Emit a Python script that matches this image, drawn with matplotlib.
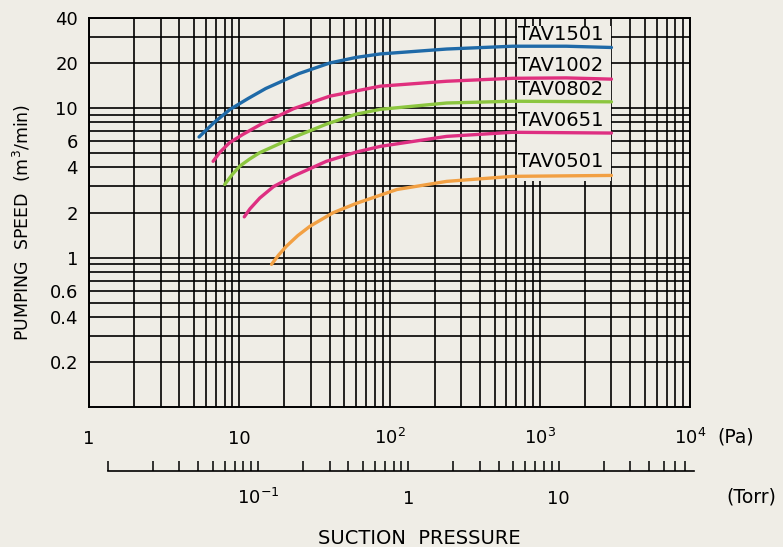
import matplotlib
matplotlib.use('Agg')
import numpy as np
from matplotlib import pyplot as plt
from matplotlib.patches import Rectangle
from matplotlib.ticker import FixedLocator, NullFormatter

PA_PER_TORR = 133.322

# pumping speed curves (x: Pa, y: m3/min)
tav1501_pa = [5.4, 6.8, 8.7, 11.5, 15, 25, 40, 60, 87, 240, 660, 1500, 3000]
tav1501_speed = [6.4, 8.0, 9.8, 11.6, 13.5, 17.0, 20.0, 21.8, 23.0, 24.8, 25.9, 25.9, 25.4]

tav1002_pa = [6.7, 7.45, 8.6, 10.6, 14, 23, 40, 87, 240, 660, 1500, 3000]
tav1002_speed = [4.4, 5.07, 5.85, 6.67, 7.8, 9.9, 12.0, 14.0, 15.1, 15.8, 15.9, 15.6]

tav0802_pa = [8.0, 9.0, 10.1, 11.7, 13.7, 22.9, 38, 60, 87, 240, 660, 3000]
tav0802_speed = [3.08, 3.6, 4.09, 4.55, 5.03, 6.35, 7.8, 9.1, 9.8, 10.8, 11.1, 11.0]

tav0651_pa = [10.8, 11.8, 13.7, 16.9, 22.9, 38, 60, 87, 240, 660, 3000]
tav0651_speed = [1.87, 2.12, 2.5, 2.98, 3.5, 4.4, 5.07, 5.54, 6.46, 6.88, 6.8]

tav0501_pa = [16.4, 18.3, 20.6, 24.5, 29.6, 42, 60, 112, 240, 660, 3000]
tav0501_speed = [0.9, 1.04, 1.19, 1.4, 1.62, 1.99, 2.3, 2.85, 3.23, 3.49, 3.54]

models = ['TAV1501', 'TAV1002', 'TAV0802', 'TAV0651', 'TAV0501']
label_y = [31.2, 19.3, 13.3, 8.27, 4.36]
colors = ['#1f6aa8', '#e0307e', '#8cc63f', '#de2f82', '#f2a043']

pa_ticks = [1, 10, 100, 1000, 10000]
pa_labels = ['1', '10', '$10^2$', '$10^3$', '$10^4$']
speed_ticks = [0.2, 0.4, 0.6, 1, 2, 4, 6, 10, 20, 40]
speed_minor = [0.3, 0.5, 0.7, 0.8, 0.9, 3, 5, 7, 8, 9, 30]
torr_ticks = [0.01, 0.1, 1, 10]
torr_labels = ['', '$10^{-1}$', '1', '10']

bg = '#efede6'
plt.rcParams['font.family'] = ['DejaVu Sans']
plt.rcParams['mathtext.default'] = 'regular'

fig = plt.figure(figsize=(7.83, 5.47), dpi=100, facecolor=bg)
ax = fig.add_axes([89 / 783, 1 - 407 / 547, 601 / 783, 389 / 547])
ax.set_facecolor(bg)
ax.set_xscale('log')
ax.set_yscale('log')
ax.set_xlim(1, 1e4)
ax.set_ylim(0.1, 40)

ax.set_xticks(pa_ticks, pa_labels)
ax.xaxis.set_minor_locator(FixedLocator(
    [k * 10 ** e for e in range(4) for k in range(2, 10)]))
ax.xaxis.set_minor_formatter(NullFormatter())
ax.set_yticks(speed_ticks, [f'{v:g}' for v in speed_ticks])
ax.yaxis.set_minor_locator(FixedLocator(speed_minor))
ax.yaxis.set_minor_formatter(NullFormatter())
ax.tick_params(which='both', length=0)
ax.tick_params(axis='x', labelsize=13, pad=27)
ax.tick_params(axis='y', labelsize=13, pad=8)
plt.setp(ax.get_xticklabels(), va='baseline')
ax.grid(which='both', color='black', linewidth=1.2, zorder=1)
ax.set_axisbelow(True)
for s in ax.spines.values():
    s.set_linewidth(1.4)

# blank area behind the model names
ax.add_patch(Rectangle((705, 3.25), 3000 - 705, 35.3 - 3.25,
                       facecolor=bg, edgecolor='none', zorder=2))

series = [(tav1501_pa, tav1501_speed), (tav1002_pa, tav1002_speed),
          (tav0802_pa, tav0802_speed), (tav0651_pa, tav0651_speed),
          (tav0501_pa, tav0501_speed)]
for (xs, ys), c in zip(series, colors):
    ax.plot(xs, ys, color=c, linewidth=2.4, solid_capstyle='round',
            solid_joinstyle='round', zorder=3)

for name, y in zip(models, label_y):
    ax.text(718, y, name, fontsize=14, va='center', ha='left', zorder=4)

# Torr scale under the Pa scale
ax2 = fig.add_axes([89 / 783, 1 - 471 / 547, 601 / 783, 0.03])
ax2.patch.set_visible(False)
ax2.set_xscale('log')
ax2.set_xlim(1 / PA_PER_TORR, 1e4 / PA_PER_TORR)
ax2.set_yticks([])
for k in ['top', 'left', 'right']:
    ax2.spines[k].set_visible(False)
ax2.spines['bottom'].set_bounds(0.01, 80)
ax2.spines['bottom'].set_linewidth(1.2)
ax2.set_xticks(torr_ticks, torr_labels)
ax2.xaxis.set_minor_locator(FixedLocator(
    [k * 10 ** e for e in range(-2, 2) for k in range(2, 10) if k * 10 ** e <= 80]))
ax2.xaxis.set_minor_formatter(NullFormatter())
ax2.tick_params(which='both', direction='in', length=7.5, width=1.1)
ax2.tick_params(axis='x', labelsize=13, pad=24)
plt.setp(ax2.get_xticklabels(), va='baseline')

fig.text(736 / 783, 1 - 437 / 547, '(Pa)', fontsize=13.5, ha='center', va='center')
fig.text(751 / 783, 1 - 497 / 547, '(Torr)', fontsize=13.5, ha='center', va='center')
fig.text(419 / 783, 1 - 538 / 547, 'SUCTION  PRESSURE', fontsize=14,
         ha='center', va='center')
fig.text(22 / 783, 1 - 222 / 547, 'PUMPING  SPEED  (m$^3$/min)', fontsize=12.5,
         rotation=90, ha='center', va='center')

fig.savefig('out.png', dpi=100, facecolor=bg)
